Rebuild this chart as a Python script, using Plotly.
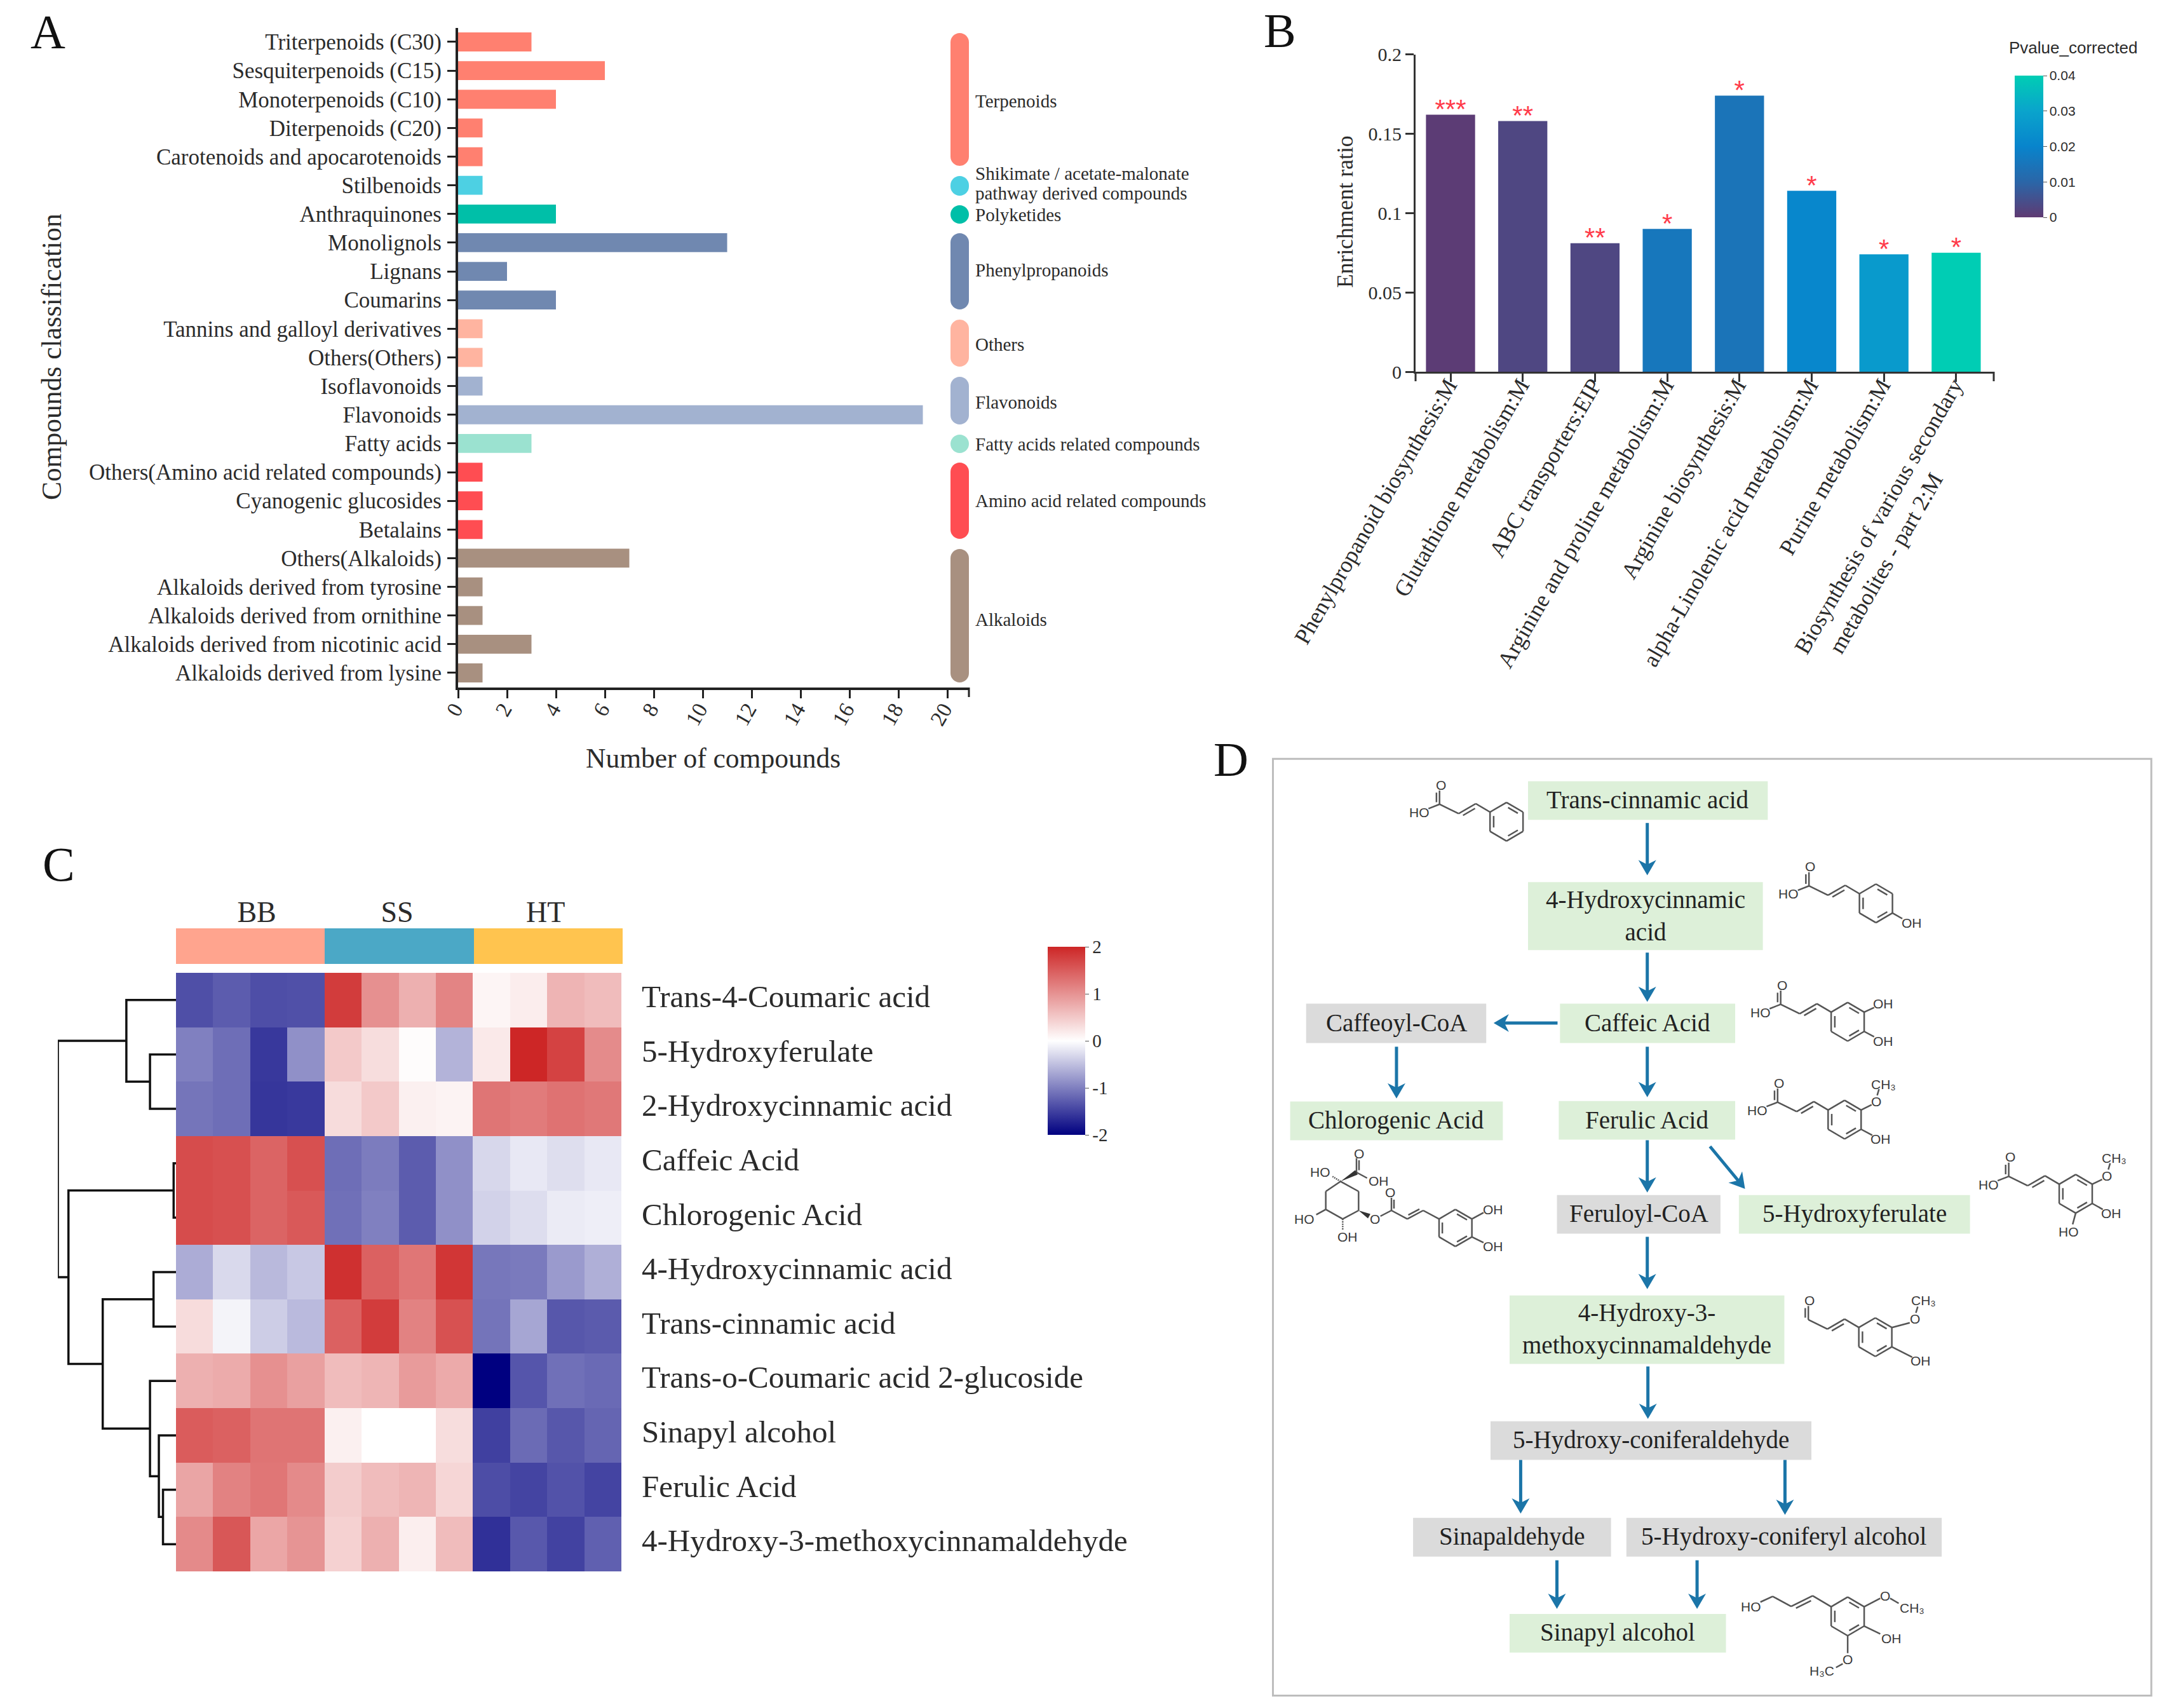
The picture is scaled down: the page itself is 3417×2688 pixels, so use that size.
import math
import plotly.graph_objects as go

W, H = 3417, 2688
SERIF = "Liberation Serif"
SANS = "Liberation Sans"
INK = "#2b2b2b"

# ---------- Panel A data ----------
compound_names = ["Triterpenoids (C30)", "Sesquiterpenoids (C15)", "Monoterpenoids (C10)", "Diterpenoids (C20)",
                  "Carotenoids and apocarotenoids", "Stilbenoids", "Anthraquinones", "Monolignols", "Lignans",
                  "Coumarins", "Tannins and galloyl derivatives", "Others(Others)", "Isoflavonoids", "Flavonoids",
                  "Fatty acids", "Others(Amino acid related compounds)", "Cyanogenic glucosides", "Betalains",
                  "Others(Alkaloids)", "Alkaloids derived from tyrosine", "Alkaloids derived from ornithine",
                  "Alkaloids derived from nicotinic acid", "Alkaloids derived from lysine"]
compound_counts = [3, 6, 4, 1, 1, 1, 4, 11, 2, 4, 1, 1, 1, 19, 3, 1, 1, 1, 7, 1, 1, 3, 1]
compound_groups = [0, 0, 0, 0, 0, 1, 2, 3, 3, 3, 4, 4, 5, 5, 6, 7, 7, 7, 8, 8, 8, 8, 8]
group_colors = ["#FF8070", "#4DD0E3", "#00BFA8", "#7088B0", "#FFB4A0", "#A2B2D0", "#9BE2D0", "#FF4D52", "#A89080"]
group_names = ["Terpenoids", "Shikimate / acetate-malonate<br>pathway derived compounds", "Polyketides",
               "Phenylpropanoids", "Others", "Flavonoids", "Fatty acids related compounds",
               "Amino acid related compounds", "Alkaloids"]

# ---------- Panel B data ----------
pathway_names = ["Phenylpropanoid biosynthesis:M", "Glutathione metabolism:M", "ABC transporters:EIP",
                 "Arginine and proline metabolism:M", "Arginine biosynthesis:M", "alpha-Linolenic acid metabolism:M",
                 "Purine metabolism:M",
                 "Biosynthesis of various secondary<br>metabolites - part 2:M" + "\u00a0" * 16]
enrichment_ratio = [0.162, 0.158, 0.081, 0.090, 0.174, 0.114, 0.074, 0.075]
pvalue_corrected = [0.0005, 0.003, 0.003, 0.0155, 0.0145, 0.021, 0.027, 0.04]
pvalue_stars = ["***", "**", "**", "*", "*", "*", "*", "*"]
p_colorscale = [[0, "#5F3A72"], [0.25, "#2A66A8"], [0.5, "#0884CC"], [0.75, "#0AA4CC"], [1, "#00CDB4"]]

# ---------- Panel C data ----------
metabolites = ["Trans-4-Coumaric acid", "5-Hydroxyferulate", "2-Hydroxycinnamic acid", "Caffeic Acid",
               "Chlorogenic Acid", "4-Hydroxycinnamic acid", "Trans-cinnamic acid",
               "Trans-o-Coumaric acid 2-glucoside", "Sinapyl alcohol", "Ferulic Acid",
               "4-Hydroxy-3-methoxycinnamaldehyde"]
heat_z = [
    [-1.38, -1.28, -1.39, -1.37, 1.80, 1.02, 0.73, 1.13, 0.09, 0.17, 0.69, 0.62],
    [-1.00, -1.14, -1.56, -0.87, 0.50, 0.31, 0.03, -0.60, 0.20, 2.00, 1.74, 1.07],
    [-1.08, -1.14, -1.58, -1.55, 0.32, 0.50, 0.14, 0.11, 1.27, 1.22, 1.30, 1.24],
    [1.65, 1.61, 1.43, 1.61, -1.14, -1.03, -1.28, -0.87, -0.31, -0.18, -0.26, -0.18],
    [1.65, 1.61, 1.43, 1.53, -1.12, -1.00, -1.28, -0.87, -0.35, -0.27, -0.16, -0.13],
    [-0.65, -0.30, -0.55, -0.43, 1.91, 1.46, 1.26, 1.85, -1.07, -1.04, -0.79, -0.63],
    [0.32, -0.09, -0.39, -0.54, 1.46, 1.80, 1.15, 1.60, -1.09, -0.70, -1.32, -1.29],
    [0.73, 0.77, 1.02, 0.88, 0.62, 0.68, 0.92, 0.78, -2.00, -1.33, -1.12, -1.17],
    [1.50, 1.46, 1.28, 1.28, 0.14, 0.00, 0.00, 0.31, -1.50, -1.16, -1.32, -1.21],
    [0.83, 1.15, 1.26, 1.08, 0.47, 0.62, 0.68, 0.38, -1.40, -1.47, -1.36, -1.47],
    [1.08, 1.55, 0.82, 0.99, 0.42, 0.73, 0.16, 0.62, -1.62, -1.31, -1.48, -1.25],
]
heat_scale = [[0, "#000080"], [0.5, "#FFFFFF"], [1, "#CD2626"]]
sample_groups = ["BB", "SS", "HT"]
sample_group_colors = ["#FFA48E", "#4BA8C6", "#FFC44F"]
# dendrogram merges: (left node, right node, height); leaves are the row numbers, new nodes count on from 11
dendro_merges = [(1, 2, 0.22), (0, 11, 0.42), (3, 4, 0.02), (5, 6, 0.19), (9, 10, 0.11), (8, 15, 0.145),
                 (7, 16, 0.22), (14, 17, 0.62), (13, 18, 0.91), (12, 19, 1.0)]

# ---------- Panel D data ----------
pathway_boxes = [
    ("Trans-cinnamic acid", "g", 522, 912, 81, 143),
    ("4-Hydroxycinnamic<br>acid", "g", 522, 904, 243, 352),
    ("Caffeoyl-CoA", "k", 161, 454, 438, 501),
    ("Caffeic Acid", "g", 574, 859, 438, 501),
    ("Chlorogenic Acid", "g", 135, 481, 595, 657),
    ("Ferulic Acid", "g", 572, 859, 594, 656),
    ("Feruloyl-CoA", "k", 569, 835, 745, 807),
    ("5-Hydroxyferulate", "g", 865, 1241, 745, 807),
    ("4-Hydroxy-3-<br>methoxycinnamaldehyde", "g", 492, 939, 906, 1016),
    ("5-Hydroxy-coniferaldehyde", "k", 461, 983, 1108, 1170),
    ("Sinapaldehyde", "k", 335, 657, 1263, 1325),
    ("5-Hydroxy-coniferyl alcohol", "k", 682, 1195, 1263, 1325),
    ("Sinapyl alcohol", "g", 492, 844, 1417, 1479),
]
pathway_arrows = [(716, 148, 716, 232), (716, 356, 716, 435), (570, 469, 466, 469), (716, 507, 716, 588),
                  (308, 507, 308, 590), (716, 657, 716, 741), (818, 667, 875, 735), (716, 812, 716, 896),
                  (717, 1020, 717, 1104), (510, 1170, 510, 1256), (940, 1170, 940, 1258), (569, 1331, 569, 1409),
                  (797, 1331, 797, 1409)]


def dom_x(a, b):
    return [a / W, b / W]


def dom_y(top, bottom):
    return [1 - bottom / H, 1 - top / H]


def dz(x, y):
    return 1900 + x * 1517 / 1568, 1150 + y * 1538 / 1568


shapes, annos = [], []


def note(x, y, text, size, color=INK, font=SERIF, xanchor="center", yanchor="middle", angle=0, align="center"):
    annos.append(dict(x=x, y=y, xref="x9", yref="y9", text=text, showarrow=False, xanchor=xanchor, yanchor=yanchor,
                      textangle=angle, align=align, font=dict(family=font, size=size, color=color)))


def stroke(x0, y0, x1, y1, color, width):
    shapes.append(dict(type="line", xref="x9", yref="y9", x0=x0, y0=y0, x1=x1, y1=y1, line=dict(color=color, width=width)))


fig = go.Figure()

# ---------- Panel A ----------
A_X0, A_UNIT, A_END = 721, 38.5, 1525
fig.add_trace(go.Bar(y=compound_names, x=compound_counts, orientation="h", width=0.66,
                     marker=dict(color=[group_colors[g] for g in compound_groups], line_width=0),
                     xaxis="x", yaxis="y", showlegend=False))
axis_a = dict(showgrid=False, zeroline=False, showline=True, linecolor="#222", linewidth=4, ticks="outside",
              ticklen=13, tickwidth=3, tickcolor="#222")
fig.update_layout(
    xaxis=dict(domain=dom_x(A_X0, A_END), range=[0, (A_END - A_X0) / A_UNIT], tickvals=list(range(0, 21, 2)),
               tickangle=-60, anchor="y", tickfont=dict(family=SERIF, size=34, color=INK), ticklabelstandoff=-16,
               ticklabelshift=-6, **axis_a),
    yaxis=dict(domain=dom_y(44, 1082), range=[22.51, -0.487], anchor="x", type="category",
               tickfont=dict(family=SERIF, size=35, color=INK), ticklabelstandoff=2, **axis_a))
stroke(1525, 1082, 1525, 1097, "#222", 3)
pill_spans = [(52, 261), (277, 308), (323, 352), (367, 487), (503, 577), (593, 668), (684, 713), (728, 848), (864, 1074)]
label_nudge = [2, -4, 0, -2, 2, 2, 0, 0, 6]
PX0, PX1 = 1496, 1525
for c, nm, (t, b), nudge in zip(group_colors, group_names, pill_spans, label_nudge):
    r = (PX1 - PX0) / 2
    k = r * 0.45
    path = (f"M{PX0},{t + r} C{PX0},{t + k} {PX0 + k},{t} {PX0 + r},{t} C{PX1 - k},{t} {PX1},{t + k} {PX1},{t + r} "
            f"L{PX1},{b - r} C{PX1},{b - k} {PX1 - k},{b} {PX0 + r},{b} C{PX0 + k},{b} {PX0},{b - k} {PX0},{b - r} Z")
    shapes.append(dict(type="path", xref="x9", yref="y9", path=path, fillcolor=c, line_width=0))
    lines = nm.split("<br>")
    for i, line in enumerate(lines):
        note(1533, (t + b) / 2 + nudge + (i - (len(lines) - 1) / 2) * 31, line, 29, xanchor="left", align="left")
note(81, 562, "Compounds classification", 43.5, angle=-90)
note(1122, 1193, "Number of compounds", 43.5)
note(75, 50, "A", 76, color="#111")

# ---------- Panel B ----------
fig.add_trace(go.Bar(x=list(range(8)), y=enrichment_ratio, width=0.68,
                     marker=dict(color=pvalue_corrected, cmin=0, cmax=0.04, colorscale=p_colorscale, line_width=0,
                                 colorbar=dict(x=3171 / W, xanchor="left", xpad=0, y=1 - 119 / H, yanchor="top", ypad=0,
                                               len=223, lenmode="pixels", thickness=45, thicknessmode="pixels",
                                               outlinewidth=0, tickvals=[0, 0.01, 0.02, 0.03, 0.04],
                                               ticktext=["0", "0.01", "0.02", "0.03", "0.04"], ticks="outside",
                                               ticklen=6, tickcolor="#555",
                                               tickfont=dict(family=SANS, size=21, color=INK))),
                     xaxis="x2", yaxis="y2", showlegend=False))
fig.add_trace(go.Scatter(x=list(range(8)), y=[v + 0.002 for v in enrichment_ratio], text=pvalue_stars, mode="text",
                         textposition="middle center", cliponaxis=False,
                         textfont=dict(family=SANS, size=42, color="#FF3B4A"), xaxis="x2", yaxis="y2",
                         showlegend=False, hoverinfo="skip"))
axis_b = dict(showgrid=False, zeroline=False, showline=True, linecolor="#333", linewidth=3, ticks="outside",
              ticklen=13, tickwidth=3, tickcolor="#333")
fig.update_layout(
    xaxis2=dict(domain=dom_x(2228, 3138), range=[-0.484, 7.52], tickvals=list(range(8)), ticktext=pathway_names,
                tickangle=-60, anchor="y2", tickfont=dict(family=SERIF, size=36, color=INK), ticklabelstandoff=-30,
                ticklabelshift=-4, **axis_b),
    yaxis2=dict(domain=dom_y(85.6, 585), range=[0, 0.2], tickvals=[0, 0.05, 0.1, 0.15, 0.2],
                ticktext=["0", "0.05", "0.1", "0.15", "0.2"], anchor="x2",
                tickfont=dict(family=SERIF, size=30, color=INK), **axis_b))
stroke(2228, 585, 2228, 600, "#333", 3)
stroke(3138, 585, 3138, 600, "#333", 3)
note(2117, 333, "Enrichment ratio", 35.5, angle=-90)
note(3263, 75, "Pvalue_corrected", 26, font=SANS)
note(2014, 48, "B", 76, color="#111")

# ---------- Panel C ----------
fig.add_trace(go.Heatmap(z=[[0, 1, 2]], x=[0, 4, 8, 12], y=[0, 1], zmin=0, zmax=2, showscale=False,
                         colorscale=[[0, sample_group_colors[0]], [0.5, sample_group_colors[1]],
                                     [1, sample_group_colors[2]]],
                         xaxis="x3", yaxis="y3"))
fig.add_trace(go.Heatmap(z=heat_z, x=list(range(12)), y=list(range(11)), zmin=-2, zmax=2, colorscale=heat_scale,
                         colorbar=dict(x=1649 / W, xanchor="left", xpad=0, y=1 - 1490 / H, yanchor="top", ypad=0,
                                       len=296, lenmode="pixels", thickness=59, thicknessmode="pixels", outlinewidth=0,
                                       tickvals=[-2, -1, 0, 1, 2], ticktext=["-2", "-1", "0", "1", "2"], ticks="outside",
                                       ticklen=6, tickcolor="#555", tickfont=dict(family=SERIF, size=29, color=INK)),
                         xaxis="x4", yaxis="y4"))
fig.update_layout(
    xaxis3=dict(domain=dom_x(277, 980), range=[0, 12], side="top", anchor="y3", tickvals=[2.17, 5.94, 9.93],
                ticktext=sample_groups, showgrid=False, zeroline=False, ticks="",
                tickfont=dict(family=SERIF, size=46, color=INK)),
    yaxis3=dict(domain=dom_y(1461, 1517), range=[0, 1], visible=False, anchor="x3"),
    xaxis4=dict(domain=dom_x(277, 978), range=[-0.5, 11.5], visible=False, anchor="y4"),
    yaxis4=dict(domain=dom_y(1531, 2473), range=[10.5, -0.5], side="right", anchor="x4",
                tickvals=[i - 0.07 for i in range(11)], ticktext=metabolites, showgrid=False, zeroline=False, ticks="",
                ticklabelstandoff=31, tickfont=dict(family=SERIF, size=49, color=INK)))
node_pos = {i: (0.0, float(i)) for i in range(11)}
dx_line, dy_line = [], []
for n, (a, b, h) in enumerate(dendro_merges):
    (ha, ya), (hb, yb) = node_pos[a], node_pos[b]
    dx_line += [ha, h, h, hb, None]
    dy_line += [ya, ya, yb, yb, None]
    node_pos[11 + n] = (h, (ya + yb) / 2)
fig.add_trace(go.Scatter(x=dx_line, y=dy_line, mode="lines", line=dict(color="#111", width=3.5), xaxis="x5", yaxis="y5",
                         showlegend=False, hoverinfo="skip"))
fig.update_layout(xaxis5=dict(domain=dom_x(91, 277), range=[1.0, 0.0], visible=False, anchor="y5"),
                  yaxis5=dict(domain=dom_y(1531, 2473), range=[10.5, -0.5], visible=False, anchor="x5"))
note(92, 1360, "C", 76, color="#111")

# ---------- Panel D ----------
fx0, fy0 = dz(107, 45)
fx1, fy1 = dz(1536, 1548)
shapes.append(dict(type="rect", xref="x9", yref="y9", x0=fx0, x1=fx1, y0=fy0, y1=fy1, line=dict(color="#BDBDBD", width=3)))
for text, kind, x0, x1, y0, y1 in pathway_boxes:
    a0, b0 = dz(x0, y0)
    a1, b1 = dz(x1, y1)
    shapes.append(dict(type="rect", xref="x9", yref="y9", x0=a0, x1=a1, y0=b0, y1=b1, line_width=0,
                       fillcolor="#DDF0D9" if kind == "g" else "#DBDBDB"))
    note((a0 + a1) / 2, (b0 + b1) / 2 - 1, text, 39, color="#222")
ARROW = "#1B75A8"
for x0, y0, x1, y1 in pathway_arrows:
    a0, b0 = dz(x0, y0)
    a1, b1 = dz(x1, y1)
    L = math.hypot(a1 - a0, b1 - b0)
    ux, uy = (a1 - a0) / L, (b1 - b0) / L
    px, py = -uy, ux
    stroke(a0, b0, a1 - ux * 8, b1 - uy * 8, ARROW, 5)
    p = (f"M{a1},{b1} L{a1 - ux * 24 + px * 14},{b1 - uy * 24 + py * 14} L{a1 - ux * 17},{b1 - uy * 17} "
         f"L{a1 - ux * 24 - px * 14},{b1 - uy * 24 - py * 14} Z")
    shapes.append(dict(type="path", xref="x9", yref="y9", path=p, fillcolor=ARROW, line_width=0))
note(1937, 1195, "D", 76, color="#111")

# chemical structures, drawn in the D panel's own coordinates
mol_x, mol_y = [], []


def seg(p, q, conv=dz):
    a, b = conv(*p), conv(*q)
    mol_x.extend([a[0], b[0], None])
    mol_y.extend([a[1], b[1], None])


def dbl(p, q, gap=6, conv=dz):
    seg(p, q, conv)
    ux, uy = q[0] - p[0], q[1] - p[1]
    L = math.hypot(ux, uy)
    nx, ny = -uy / L * gap, ux / L * gap
    seg((p[0] + ux * .15 + nx, p[1] + uy * .15 + ny), (q[0] - ux * .15 + nx, q[1] - uy * .15 + ny), conv)


def chem(x, y, text, conv=dz):
    a, b = conv(x, y)
    note(a, b, text, 21, color="#3a3a3a", font=SANS)


def ring(cx, cy, R=31, conv=dz):
    v = [(cx + R * math.cos(math.radians(a)), cy + R * math.sin(math.radians(a))) for a in (150, 210, 270, 330, 30, 90)]
    for i in range(6):
        seg(v[i], v[(i + 1) % 6], conv)
    for i in (0, 2, 4):
        p, q = v[i], v[(i + 1) % 6]
        mp = [(cx + (pt[0] - cx) * 0.78, cy + (pt[1] - cy) * 0.78) for pt in (p, q)]
        ux, uy = mp[1][0] - mp[0][0], mp[1][1] - mp[0][1]
        seg((mp[0][0] + ux * .12, mp[0][1] + uy * .12), (mp[1][0] - ux * .12, mp[1][1] - uy * .12), conv)
    return dict(ul=v[1], top=v[2], ur=v[3], lr=v[4], bot=v[5], ll=v[0])


def cinnamate(ox, oy, acid=True):
    c1 = (ox - 2, oy + 31)
    c2 = (ox + 29, oy + 46)
    c3 = (ox + 57, oy + 30)
    if acid:
        chem(ox - 35, oy + 44, "HO")
        seg((ox - 20, oy + 38), c1)
    chem(ox, oy, "O")
    dbl((ox - 2, oy + 9), c1, gap=5)
    seg(c1, c2)
    dbl(c2, c3, gap=6)
    v = ring(ox + 107, oy + 59)
    seg(c3, v["ul"])
    return v


v = cinnamate(380, 87)
v = cinnamate(981, 218)
seg(v["lr"], (v["lr"][0] + 16, v["lr"][1] + 9))
chem(1146, 308, "OH")
v = cinnamate(935, 408)
seg(v["ur"], (1085, 444)); chem(1100, 438, "OH")
seg(v["lr"], (1085, 491)); chem(1100, 498, "OH")
v = cinnamate(930, 565)
seg(v["ur"], (1081, 600)); chem(1088, 595, "O")
seg((1090, 585), (1093, 575)); chem(1100, 567, "CH₃")
seg(v["lr"], (1082, 649)); chem(1096, 655, "OH")
v = cinnamate(1306, 684)
seg(v["ur"], (1456, 720)); chem(1464, 714, "O")
seg((1466, 704), (1469, 694)); chem(1476, 686, "CH₃")
seg(v["lr"], (1457, 768)); chem(1471, 774, "OH")
seg(v["bot"], (1408, 792)); chem(1402, 804, "HO")
v = cinnamate(980, 914, acid=False)
seg(v["ur"], (1143, 950)); chem(1151, 944, "O")
seg((1153, 934), (1156, 924)); chem(1165, 914, "CH₃")
seg(v["lr"], (1147, 1005)); chem(1161, 1011, "OH")
# sinapyl alcohol
chem(885, 1405, "HO")
seg((900, 1398), (920, 1389)); seg((920, 1389), (950, 1405)); dbl((950, 1405), (985, 1388))
v = ring(1042, 1421)
seg((985, 1388), v["ul"])
seg(v["ur"], (1095, 1392)); chem(1103, 1388, "O")
seg((1111, 1392), (1125, 1400)); chem(1147, 1407, "CH₃")
seg(v["lr"], (1095, 1449)); chem(1113, 1456, "OH")
seg(v["bot"], (1042, 1480)); chem(1042, 1490, "O")
seg((1034, 1497), (1023, 1503)); chem(1000, 1508, "H₃C")


# chlorogenic acid, drawn on the coordinates of its own detail crop
def cz(x, y):
    return 2020 + x / 3, 1790 + y / 3


qa = [(270, 208), (355, 255), (355, 345), (280, 385), (200, 340), (200, 255)]
for i in range(6):
    seg(qa[i], qa[(i + 1) % 6], cz)
dbl((345, 165), (345, 98), gap=12, conv=cz)
for p, q in [((345, 165), (395, 192)), ((200, 340), (155, 365)),
             ((458, 372), (510, 345)), ((510, 345), (585, 385))]:
    seg(p, q, cz)
for p, q in [((270, 208), (228, 182)), ((280, 385), (280, 440))]:  # hashed bonds
    for s in range(5):
        f0, f1 = s / 5, (s + 0.55) / 5
        seg((p[0] + (q[0] - p[0]) * f0, p[1] + (q[1] - p[1]) * f0), (p[0] + (q[0] - p[0]) * f1, p[1] + (q[1] - p[1]) * f1), cz)
for p, q in [((270, 208), (345, 165)), ((355, 345), (405, 372))]:  # wedged bonds
    a, b = cz(*p), cz(*q)
    L = math.hypot(b[0] - a[0], b[1] - a[1])
    nx, ny = -(b[1] - a[1]) / L * 4, (b[0] - a[0]) / L * 4
    shapes.append(dict(type="path", xref="x9", yref="y9", line_width=0, fillcolor="#333",
                       path=f"M{a[0]},{a[1]} L{b[0] + nx},{b[1] + ny} L{b[0] - nx},{b[1] - ny} Z"))
dbl((510, 345), (510, 285), gap=12, conv=cz)
dbl((585, 385), (660, 345), gap=-14, conv=cz)
seg((660, 345), (735, 385), cz)
bz = [(735, 385), (812, 340), (890, 385), (890, 470), (812, 515), (735, 470)]
for i in range(6):
    seg(bz[i], bz[(i + 1) % 6], cz)
for i, j in [(1, 2), (3, 4), (5, 0)]:
    cx, cy = 812, 428
    a = (cx + (bz[i][0] - cx) * .8, cy + (bz[i][1] - cy) * .8)
    b = (cx + (bz[j][0] - cx) * .8, cy + (bz[j][1] - cy) * .8)
    seg((a[0] + (b[0] - a[0]) * .12, a[1] + (b[1] - a[1]) * .12), (b[0] - (b[0] - a[0]) * .12, b[1] - (b[1] - a[1]) * .12), cz)
seg((890, 385), (945, 355), cz)
seg((890, 470), (945, 497), cz)
for x, y, t in [(357, 75, "O"), (450, 205, "OH"), (175, 163, "HO"), (100, 385, "HO"), (303, 470, "OH"), (432, 385, "O"),
                (505, 260, "O"), (990, 340, "OH"), (990, 515, "OH")]:
    chem(x, y, t, cz)

fig.add_trace(go.Scatter(x=mol_x, y=mol_y, mode="lines", line=dict(color="#555", width=2.5), xaxis="x9", yaxis="y9",
                         showlegend=False, hoverinfo="skip"))

fig.update_layout(
    width=W, height=H, margin=dict(l=0, r=0, t=0, b=0, autoexpand=False), paper_bgcolor="white",
    plot_bgcolor="rgba(0,0,0,0)", showlegend=False, shapes=shapes, annotations=annos,
    xaxis9=dict(domain=[0, 1], range=[0, W], visible=False, anchor="y9"),
    yaxis9=dict(domain=[0, 1], range=[H, 0], visible=False, anchor="x9"))
fig.write_html("out.html", config={"displayModeBar": False}, post_script="document.body.style.margin='0';")
